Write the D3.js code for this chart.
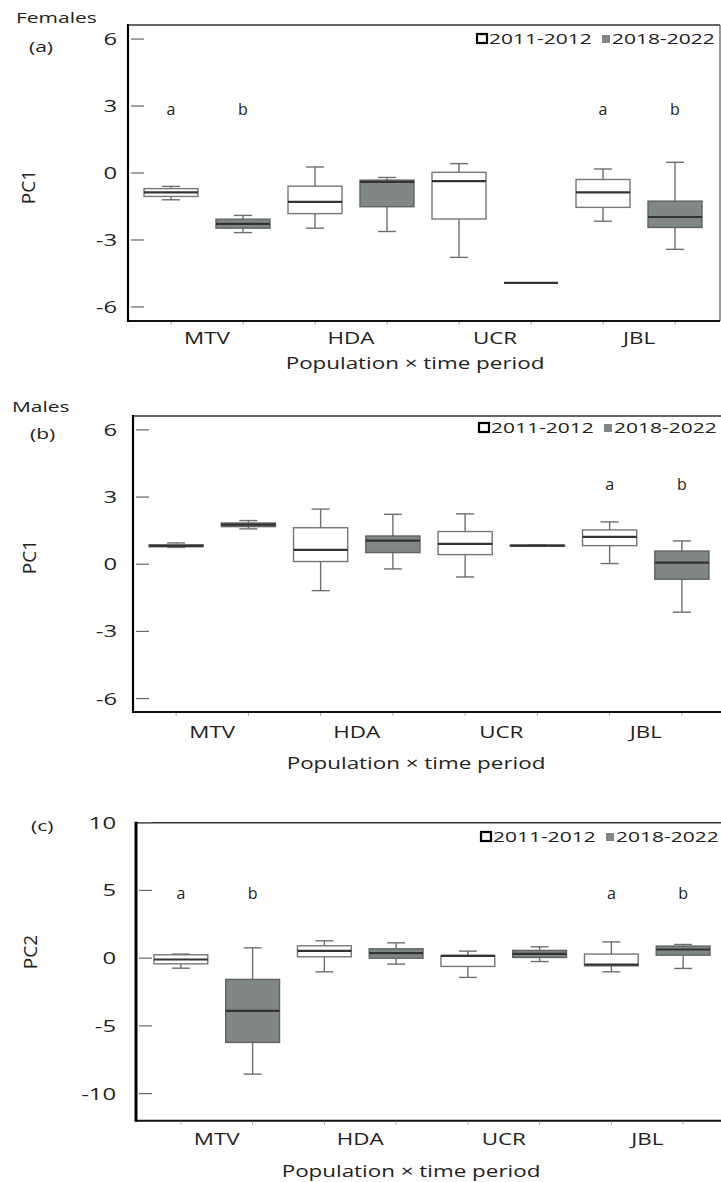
<!DOCTYPE html>
<html>
<head>
<meta charset="utf-8">
<script src="https://cdn.jsdelivr.net/npm/d3@7"></script>
<style>
  body { margin: 0; background: #fff; }
  text { font-family: "Open Sans", "DejaVu Sans", sans-serif; fill: #222; }
</style>
</head>
<body>
<div id="chart"></div>
<script>
// categories and periods
var categories = ["MTV", "HDA", "UCR", "JBL"];
var periods = ["2011-2012", "2018-2022"];

// box stats per slot: [min, q1, median, q3, max], order MTV/11, MTV/18, HDA/11 ...
var femalesPC1 = [
  [-1.2, -1.05, -0.87, -0.7, -0.6],
  [-2.67, -2.47, -2.28, -2.07, -1.9],
  [-2.47, -1.82, -1.29, -0.59, 0.27],
  [-2.62, -1.51, -0.4, -0.32, -0.2],
  [-3.78, -2.06, -0.36, 0.03, 0.42],
  [-4.92, -4.92, -4.92, -4.92, -4.92],
  [-2.16, -1.54, -0.87, -0.29, 0.18],
  [-3.42, -2.44, -1.97, -1.26, 0.48]
];
var malesPC1 = [
  [0.75, 0.78, 0.82, 0.87, 0.95],
  [1.58, 1.68, 1.77, 1.84, 1.95],
  [-1.18, 0.12, 0.64, 1.63, 2.46],
  [-0.21, 0.52, 1.05, 1.26, 2.23],
  [-0.57, 0.43, 0.91, 1.46, 2.25],
  [0.8, 0.81, 0.83, 0.85, 0.86],
  [0.03, 0.83, 1.22, 1.53, 1.89],
  [-2.14, -0.67, 0.07, 0.59, 1.04]
];
var panelCPC2 = [
  [-0.74, -0.42, -0.1, 0.25, 0.3],
  [-8.56, -6.22, -3.89, -1.57, 0.76],
  [-1.01, 0.1, 0.54, 0.91, 1.28],
  [-0.44, 0.0, 0.37, 0.69, 1.13],
  [-1.42, -0.61, 0.17, 0.2, 0.52],
  [-0.25, 0.05, 0.32, 0.57, 0.84],
  [-1.01, -0.57, -0.48, 0.3, 1.2],
  [-0.76, 0.22, 0.64, 0.89, 1.01]
];

// significance letters per slot
var lettersA = ["a", "b", "", "", "", "", "a", "b"];
var lettersB = ["", "", "", "", "", "", "a", "b"];
var lettersC = ["a", "b", "", "", "", "", "a", "b"];

var ticksPC1 = [6, 3, 0, -3, -6];
var ticksPC2 = [10, 5, 0, -5, -10];

var svg = d3.select("#chart").append("svg")
  .attr("width", 721)
  .attr("height", 1182);

var SX = 1.4; // the source figure is stretched sideways

function wideText(g, x, y, str, size, anchor) {
  return g.append("text")
    .attr("transform", "translate(" + x + "," + y + ") scale(" + SX + ",1)")
    .attr("text-anchor", anchor || "start")
    .style("font-size", size + "px")
    .text(str);
}

var slots = [];
categories.forEach(function(c) {
  periods.forEach(function(p) { slots.push(c + "|" + p); });
});

function drawPanel(cfg) {
  var g = svg.append("g");

  var x = d3.scaleBand().domain(slots).range([cfg.x0, cfg.x1]).padding(0);
  var y = d3.scaleLinear().domain(cfg.domain).range([cfg.bottom, cfg.top]);
  var bw = x.bandwidth();
  var boxW = bw * 0.75;
  var capW = bw * 0.25;

  // frame
  g.append("line").attr("x1", cfg.left).attr("x2", cfg.right)
    .attr("y1", cfg.top).attr("y2", cfg.top)
    .attr("stroke", "#333").attr("stroke-width", 1.6);
  g.append("line").attr("x1", cfg.right).attr("x2", cfg.right)
    .attr("y1", cfg.top).attr("y2", cfg.bottom)
    .attr("stroke", "#555").attr("stroke-width", 1.2);
  g.append("line").attr("x1", cfg.left).attr("x2", cfg.right)
    .attr("y1", cfg.bottom).attr("y2", cfg.bottom)
    .attr("stroke", "#111").attr("stroke-width", 2);
  g.append("line").attr("x1", cfg.left).attr("x2", cfg.left)
    .attr("y1", cfg.top - 1).attr("y2", cfg.bottom + 1)
    .attr("stroke", "#000").attr("stroke-width", cfg.leftW);

  // y axis labels via d3 axis, tick marks drawn inside the frame
  var yAxis = d3.axisLeft(y).tickValues(cfg.ticks).tickSize(0).tickPadding(0)
    .tickFormat(function(d) { return String(d); });
  var ag = g.append("g").attr("transform", "translate(" + cfg.labelX + ",0)").call(yAxis);
  ag.select(".domain").remove();
  ag.selectAll("text")
    .attr("x", 0)
    .attr("transform", "scale(" + SX + ",1)")
    .style("font-size", "17px")
    .style("font-family", "'Open Sans', sans-serif")
    .attr("fill", "#222");

  g.selectAll(".ytick").data(cfg.ticks).enter().append("line")
    .attr("x1", cfg.left + 3).attr("x2", cfg.left + 16)
    .attr("y1", function(d) { return y(d); }).attr("y2", function(d) { return y(d); })
    .attr("stroke", "#666").attr("stroke-width", 1.2);

  // small x ticks below the frame
  g.selectAll(".xtick").data(slots).enter().append("line")
    .attr("x1", function(d) { return x(d) + bw / 2; })
    .attr("x2", function(d) { return x(d) + bw / 2; })
    .attr("y1", cfg.bottom + 1).attr("y2", cfg.bottom + 4)
    .attr("stroke", "#aaa").attr("stroke-width", 1);

  // boxes
  var box = g.selectAll(".box").data(cfg.stats).enter().append("g")
    .attr("transform", function(d, i) { return "translate(" + (x(slots[i]) + bw / 2) + ",0)"; });

  box.append("line")
    .attr("x1", 0).attr("x2", 0)
    .attr("y1", function(d) { return y(d[4]); })
    .attr("y2", function(d) { return y(d[0]); })
    .attr("stroke", "#6f6f6f").attr("stroke-width", 1.4);
  box.append("line")
    .attr("x1", -capW / 2).attr("x2", capW / 2)
    .attr("y1", function(d) { return y(d[4]); }).attr("y2", function(d) { return y(d[4]); })
    .attr("stroke", "#6f6f6f").attr("stroke-width", 1.4);
  box.append("line")
    .attr("x1", -capW / 2).attr("x2", capW / 2)
    .attr("y1", function(d) { return y(d[0]); }).attr("y2", function(d) { return y(d[0]); })
    .attr("stroke", "#6f6f6f").attr("stroke-width", 1.4);
  box.append("rect")
    .attr("x", -boxW / 2).attr("width", boxW)
    .attr("y", function(d) { return y(d[3]); })
    .attr("height", function(d) { return Math.max(0, y(d[1]) - y(d[3])); })
    .attr("fill", function(d, i) { return i % 2 ? "#808784" : "#fff"; })
    .attr("stroke", function(d, i) { return i % 2 ? "#5f6462" : "#777"; })
    .attr("stroke-width", 1.4);
  box.append("line")
    .attr("x1", -boxW / 2).attr("x2", boxW / 2)
    .attr("y1", function(d) { return y(d[2]); }).attr("y2", function(d) { return y(d[2]); })
    .attr("stroke", "#333").attr("stroke-width", 2.2);

  // letters
  cfg.letters.forEach(function(l, i) {
    if (!l) return;
    g.append("text")
      .attr("x", x(slots[i]) + bw / 2)
      .attr("y", y(cfg.letterY))
      .attr("text-anchor", "middle")
      .attr("dominant-baseline", "middle")
      .style("font-size", "16px")
      .text(l);
  });

  // category labels
  categories.forEach(function(c) {
    var cx = (x(c + "|" + periods[0]) + x(c + "|" + periods[1]) + bw) / 2;
    wideText(g, cx, cfg.catY, c, 16, "middle");
  });
  wideText(g, cfg.titleX, cfg.titleY, "Population \u00d7 time period", 16, "middle");

  // y title
  g.append("text")
    .attr("transform", "translate(" + cfg.yTitleX + "," + cfg.yTitleY + ") rotate(-90)")
    .attr("text-anchor", "middle")
    .style("font-size", "19px")
    .style("font-family", "'Liberation Sans Narrow', 'Open Sans', sans-serif")
    .text(cfg.yTitle);

  // panel labels
  if (cfg.sex) wideText(g, cfg.sexX, cfg.sexY, cfg.sex, 15, "start");
  wideText(g, cfg.tagX, cfg.tagY, cfg.tag, 15, "start");

  // legend
  var lg = g.append("g").attr("transform", "translate(" + cfg.legX + "," + cfg.legY + ")");
  lg.append("rect").attr("x", 1).attr("y", -10).attr("width", 10).attr("height", 9)
    .attr("fill", "#fff").attr("stroke", "#000").attr("stroke-width", 2.2);
  wideText(lg, 13, 0, periods[0], 15, "start");
  lg.append("rect").attr("x", 126).attr("y", -9).attr("width", 8).attr("height", 8)
    .attr("fill", "#808784");
  wideText(lg, 136, 0, periods[1], 15, "start");
}

drawPanel({
  stats: femalesPC1, letters: lettersA, letterY: 2.8,
  domain: [-6.63, 6.63], ticks: ticksPC1,
  left: 128, right: 720, top: 25, bottom: 321, leftW: 2.2,
  x0: 135, x1: 711, labelX: 117,
  catY: 344, titleX: 415, titleY: 369,
  yTitle: "PC1", yTitleX: 35, yTitleY: 187,
  sex: "Females", sexX: 16, sexY: 23, tag: "(a)", tagX: 29, tagY: 52,
  legX: 476, legY: 44
});

drawPanel({
  stats: malesPC1, letters: lettersB, letterY: 3.5,
  domain: [-6.6, 6.62], ticks: ticksPC1,
  left: 133, right: 723, top: 416, bottom: 712, leftW: 2.2,
  x0: 140, x1: 718, labelX: 117,
  catY: 738, titleX: 416, titleY: 769,
  yTitle: "PC1", yTitleX: 36, yTitleY: 557,
  sex: "Males", sexX: 12, sexY: 412, tag: "(b)", tagX: 30, tagY: 439,
  legX: 478, legY: 433
});

drawPanel({
  stats: panelCPC2, letters: lettersC, letterY: 4.65,
  domain: [-12, 10], ticks: ticksPC2,
  left: 136, right: 723, top: 822.7, bottom: 1120.7, leftW: 3,
  x0: 145, x1: 719, labelX: 116,
  catY: 1145, titleX: 411, titleY: 1177,
  yTitle: "PC2", yTitleX: 37, yTitleY: 952,
  sex: null, tag: "(c)", tagX: 31, tagY: 831,
  legX: 480, legY: 842
});
</script>
</body>
</html>
